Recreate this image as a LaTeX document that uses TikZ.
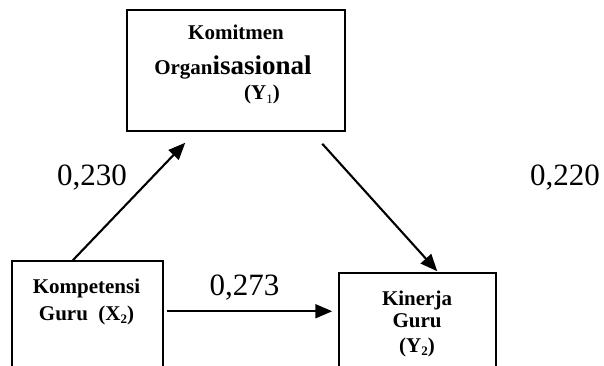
\documentclass[tikz,border=0pt]{standalone}
\usepackage{fontspec}
\setmainfont{Liberation Serif}
\usetikzlibrary{arrows.meta,calc}
\newcommand{\sbs}[1]{\raisebox{-0.35ex}{\fontsize{13}{13}\selectfont #1}}

\begin{document}
\begin{tikzpicture}[x=1pt,y=-1pt,
  every node/.style={inner sep=0pt},
  box/.style={draw,line width=1.5pt,minimum width=#1,minimum height=119pt},
  txt/.style={font=\bfseries\fontsize{21}{25}\selectfont,anchor=base},
  num/.style={font=\fontsize{31}{36}\selectfont,anchor=base},
  arr/.style={-{Triangle[length=17pt,width=14pt]},line width=2.1pt}]
\useasboundingbox (0,0) rectangle (604,366);
\clip (0,0) rectangle (604,366);
% boxes
\node[box=218pt,minimum height=121pt] (org) at (236,70.5) {};
\node[box=151pt] (komp) at (87.5,320.5) {};
\node[box=157pt] (kin) at (417.5,332.5) {};
% box texts
\node[txt] (orgA) at (236,40) {Komitmen};
\node[txt] (orgB) at (233,75) {Organ{\fontsize{27}{30}\selectfont isasional}};
\node[txt] (orgC) at (262,100) {(Y\sbs{\mdseries 1})};
\node[txt] (kompA) at (86.5,293) {Kompetensi};
\node[txt] (kompB) at (86.5,320) {Guru~ (X\sbs{2})};
\node[txt] (kinA) at (417,305) {Kinerja};
\node[txt] (kinB) at (417,327) {Guru};
\node[txt] (kinC) at (417,352) {(Y\sbs{2})};
% arrow ends
\coordinate (s1) at ($(komp.north west)!0.404!(komp.north east)$);
\coordinate (e1) at ($(org.south west)+(59,11)$);
\coordinate (s2) at ($(org.south west)+(196,12)$);
\coordinate (e2) at ($(kin.north west)+(99,-1)$);
\coordinate (s3) at ($(komp.north east)+(3,51)$);
\coordinate (e3) at ($(kin.north west)+(-6,39)$);
\draw[arr] (s1) -- (e1);
\draw[arr] (s2) -- (e2);
\draw[arr] (s3) -- (e3);
% coefficients
\node[num] (p1) at (92,185) {0,230};
\node[num] (p2) at (244.5,295) {0,273};
\node[num] (p3) at (565,185) {0,220};
\end{tikzpicture}
\end{document}
